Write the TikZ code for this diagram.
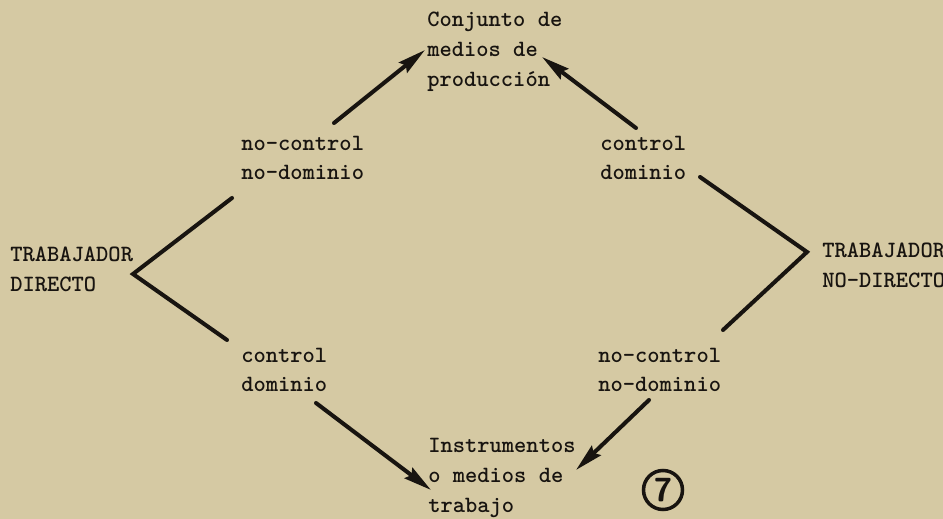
\documentclass[tikz,border=0pt]{standalone}
\usetikzlibrary{arrows.meta}
\definecolor{paper}{RGB}{213,201,163}
\definecolor{ink}{RGB}{24,20,16}

\begin{document}
\begin{tikzpicture}[x=0.02cm,y=-0.02cm,
      txt/.style={anchor=west, inner sep=0pt, align=left, text=ink,
                  font=\ttfamily\bfseries\fontsize{13.3}{17}\selectfont},
      ln/.style={draw=ink, line width=2.3pt, line cap=round},
      arr/.style={ln, -{Stealth[length=5.6mm,width=2.6mm,inset=0.7mm]}}]
    \fill[paper] (0,0) rectangle (943,519);
    \useasboundingbox (0,0) rectangle (943,519);
    \path   (427,52)  node (prod)   [txt] {Conjunto de\\medios de\\producción}
            (241,158) node (ncndA)  [txt] {no-control\\no-dominio}
            (600,158) node (cdA)    [txt] {control\\dominio}
            (10,269)  node (tdir)   [txt] {TRABAJADOR\\DIRECTO}
            (822,265) node (tnodir) [txt] {TRABAJADOR\\NO-DIRECTO}
            (241,370) node (cdB)    [txt] {control\\dominio}
            (598,370) node (ncndB)  [txt] {no-control\\no-dominio}
            (428,478) node (instr)  [txt] {Instrumentos\\o medios de\\trabajo}
            (663,490) node (siete)  [circle, draw=ink, line width=2pt, minimum size=0.78cm,
                                     inner sep=0pt, text=ink, font=\sffamily\bfseries\fontsize{19}{19}\selectfont] {7};
    % end points of the connectors
    \coordinate (a1) at (334,123);  \coordinate (p1) at (425,50);
    \coordinate (a2) at (636,128);  \coordinate (p2) at (542,57);
    \coordinate (l1) at (232,198);  \coordinate (lv) at (133,274);  \coordinate (l2) at (227,340);
    \coordinate (r1) at (700,177);  \coordinate (rv) at (807,252);  \coordinate (r2) at (723,330);
    \coordinate (b1) at (316,403);  \coordinate (i1) at (431,490);
    \coordinate (b2) at (649,400);  \coordinate (i2) at (576,470);
    \draw [arr] (a1) -- (p1);
    \draw [arr] (a2) -- (p2);
    \draw [arr] (b1) -- (i1);
    \draw [arr] (b2) -- (i2);
    \draw [ln] (l1) -- (lv) -- (l2)  (r1) -- (rv) -- (r2);
\end{tikzpicture}
\end{document}
